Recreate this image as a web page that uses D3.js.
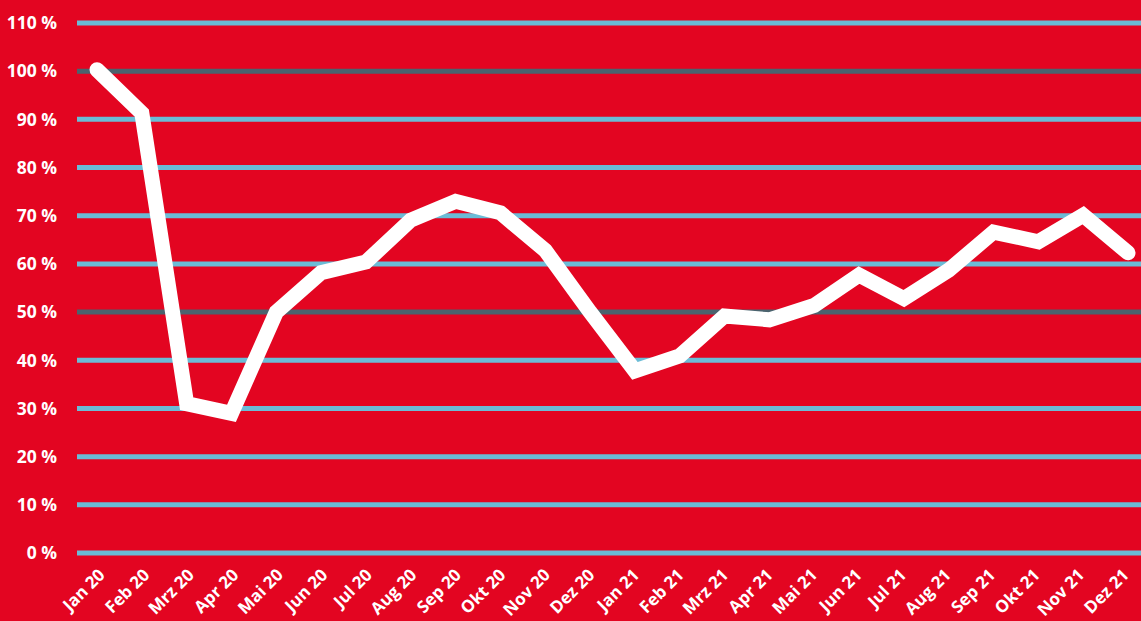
<!DOCTYPE html>
<html>
<head>
<meta charset="utf-8" />
<script src="https://cdn.jsdelivr.net/npm/d3@7"></script>
<style>
    body { margin: 0; background: #e30521; }
    svg { display: block; }
    text { font-family: "Open Sans", sans-serif; font-weight: bold; fill: #fff; }
</style>
</head>
<body>
<script>
    var months = ["Jan 20", "Feb 20", "Mrz 20", "Apr 20", "Mai 20", "Jun 20", "Jul 20", "Aug 20",
        "Sep 20", "Okt 20", "Nov 20", "Dez 20", "Jan 21", "Feb 21", "Mrz 21", "Apr 21", "Mai 21",
        "Jun 21", "Jul 21", "Aug 21", "Sep 21", "Okt 21", "Nov 21", "Dez 21"];
    var values = [100.3, 91.3, 31, 29, 50, 58.2, 60.4, 69.1, 73, 70.6, 62.8, 50, 37.8, 40.9,
        49.2, 48.4, 51.4, 57.7, 52.8, 58.7, 66.6, 64.6, 70.1, 62.3];
    var yTicks = [0, 10, 20, 30, 40, 50, 60, 70, 80, 90, 100, 110];
    var darkTicks = [50, 100];

    var width = 1141,
        height = 621;

    var svg = d3.select("body").append("svg")
        .attr("width", width)
        .attr("height", height);

    svg.append("rect")
        .attr("width", width)
        .attr("height", height)
        .attr("fill", "#e30521");

    var x = d3.scalePoint()
        .domain(months)
        .range([97, 1128]);

    // labels sit slightly shifted from the points
    var xLabel = d3.scalePoint()
        .domain(months)
        .range([106, 1130]);

    var y = d3.scaleLinear()
        .domain([0, 110])
        .range([553, 23]);

    // gridlines
    svg.append("g")
        .selectAll("line")
        .data(yTicks)
        .enter().append("line")
        .attr("x1", 77)
        .attr("x2", width)
        .attr("y1", function (d) { return y(d); })
        .attr("y2", function (d) { return y(d); })
        .attr("stroke", function (d) {
            return darkTicks.indexOf(d) >= 0 ? "#4b636e" : "#6bbcd6";
        })
        .attr("stroke-width", 5);

    // y labels
    svg.append("g")
        .selectAll("text")
        .data(yTicks)
        .enter().append("text")
        .attr("x", 57)
        .attr("y", function (d) { return y(d); })
        .attr("dy", "0.36em")
        .attr("text-anchor", "end")
        .attr("font-size", "17.5px")
        .text(function (d) { return d + " %"; });

    // x labels
    svg.append("g")
        .selectAll("text")
        .data(months)
        .enter().append("text")
        .attr("text-anchor", "end")
        .attr("font-size", "17px")
        .attr("transform", function (d) {
            return "translate(" + xLabel(d) + "," + 576 + ") rotate(-45)";
        })
        .text(function (d) { return d; });

    var line = d3.line()
        .x(function (d, i) { return x(months[i]); })
        .y(function (d) { return y(d); });

    svg.append("path")
        .datum(values)
        .attr("d", line)
        .attr("fill", "none")
        .attr("stroke", "#fff")
        .attr("stroke-width", 15)
        .attr("stroke-linejoin", "miter")
        .attr("stroke-linecap", "round");
</script>
</body>
</html>
